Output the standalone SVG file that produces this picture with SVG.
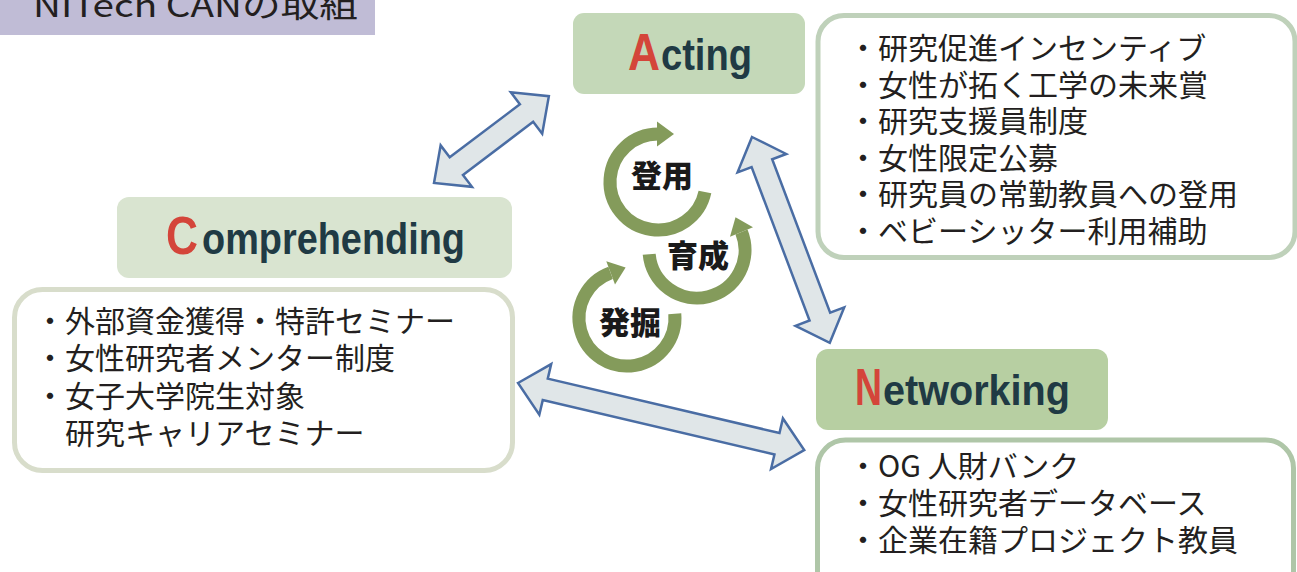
<svg xmlns="http://www.w3.org/2000/svg" width="1297" height="572" viewBox="0 0 1297 572">
<style>
.list{font-family:"Noto Sans CJK JP","Noto Sans",sans-serif;font-size:30px;fill:#231F20;}
.head-t{font-family:"Liberation Sans",Arial,sans-serif;font-weight:bold;}
.cap{fill:#D4453A;}
.word{fill:#203A44;}
.arr{fill:#E0E6E8;stroke:#4A6DA4;stroke-width:2.5;stroke-linejoin:miter;}
.ring{fill:none;stroke:#849B5B;stroke-width:13;}
.head{fill:#849B5B;}
.lbl{font-family:"Noto Sans CJK JP",sans-serif;font-weight:900;font-size:31px;fill:#1A1A1A;text-anchor:middle;}
</style>
<g id="title">
<rect x="0" y="0" width="375" height="35" fill="#C0BCD6"/>
<text x="33" y="17" font-family="Noto Sans CJK JP, sans-serif" font-size="32" fill="#231F20" textLength="325" lengthAdjust="spacingAndGlyphs">NITech CANの取組</text>
</g>
<g id="connectors">
<polygon class="arr" transform="translate(434,183) rotate(-37.1)" points="0,0 28,-26 28,-11 116,-11 116,-26 144,0 116,26 116,11 28,11 28,26"/>
<polygon class="arr" transform="translate(752,137) rotate(69.3)" points="0,0 28,-26 28,-11 192,-11 192,-26 220,0 192,26 192,11 28,11 28,26"/>
<polygon class="arr" transform="translate(518,383) rotate(13.2)" points="0,0 28,-26 28,-11 266,-11 266,-26 294,0 266,26 266,11 28,11 28,26"/>
</g>
<g id="cycle">
<path class="ring" d="M704.95,191.98 A48,48 0 1 1 658,134"/>
<polygon class="head" points="657,121.5 657,146.5 674,134"/>
<path class="ring" d="M649.2,254.2 A48,48 0 1 0 741.5,232"/>
<polygon class="head" points="753,227.2 730,236.8 735.5,217.2"/>
<path class="ring" d="M674.8,313.8 A48,48 0 1 1 610.6,272.9"/>
<polygon class="head" points="606.3,261.2 615,284.6 625.6,267.4"/>
<text class="lbl" x="662" y="187">登用</text>
<text class="lbl" x="698" y="267">育成</text>
<text class="lbl" x="630" y="334">発掘</text>
</g>
<g id="acting">
<rect x="573" y="13" width="232" height="81" rx="11" fill="#C4D8B8"/>
<text class="head-t" y="70"><tspan class="cap" x="628" font-size="52" textLength="32" lengthAdjust="spacingAndGlyphs">A</tspan><tspan class="word" x="661" font-size="44" textLength="91" lengthAdjust="spacingAndGlyphs">cting</tspan></text>
</g>
<g id="acting-list">
<rect x="818" y="15.5" width="477" height="242" rx="26" fill="#FFFFFF" stroke="#BFD1BA" stroke-width="5"/>
<text class="list" y="59"><tspan x="848">・研究促進インセンティブ</tspan><tspan x="848" dy="36.6">・女性が拓く工学の未来賞</tspan><tspan x="848" dy="36.6">・研究支援員制度</tspan><tspan x="848" dy="36.6">・女性限定公募</tspan><tspan x="848" dy="36.6">・研究員の常勤教員への登用</tspan><tspan x="848" dy="36.6">・ベビーシッター利用補助</tspan></text>
</g>
<g id="comprehending">
<rect x="117" y="197" width="395" height="81" rx="12" fill="#D9E4D0"/>
<text class="head-t" y="254"><tspan class="cap" x="166" font-size="54" textLength="32" lengthAdjust="spacingAndGlyphs">C</tspan><tspan class="word" x="202" font-size="44" textLength="263" lengthAdjust="spacingAndGlyphs">omprehending</tspan></text>
</g>
<g id="comprehending-list">
<rect x="14.5" y="289.5" width="498" height="181" rx="28" fill="#FFFFFF" stroke="#D8DDCB" stroke-width="5"/>
<text class="list" y="332"><tspan x="35">・外部資金獲得・特許セミナー</tspan><tspan x="35" dy="37.3">・女性研究者メンター制度</tspan><tspan x="35" dy="37.3">・女子大学院生対象</tspan><tspan x="65" dy="37.3">研究キャリアセミナー</tspan></text>
</g>
<g id="networking">
<rect x="816" y="349" width="292" height="81" rx="12" fill="#B7CFA2"/>
<text class="head-t" y="405"><tspan class="cap" x="855" font-size="52" textLength="27" lengthAdjust="spacingAndGlyphs">N</tspan><tspan class="word" x="883" font-size="43" textLength="187" lengthAdjust="spacingAndGlyphs">etworking</tspan></text>
</g>
<g id="networking-list">
<rect x="817.5" y="440" width="476" height="160" rx="28" fill="#FFFFFF" stroke="#AFC6A8" stroke-width="5"/>
<text class="list" y="477"><tspan x="848">・OG 人財バンク</tspan><tspan x="848" dy="37">・女性研究者データベース</tspan><tspan x="848" dy="37">・企業在籍プロジェクト教員</tspan></text>
</g>
</svg>
